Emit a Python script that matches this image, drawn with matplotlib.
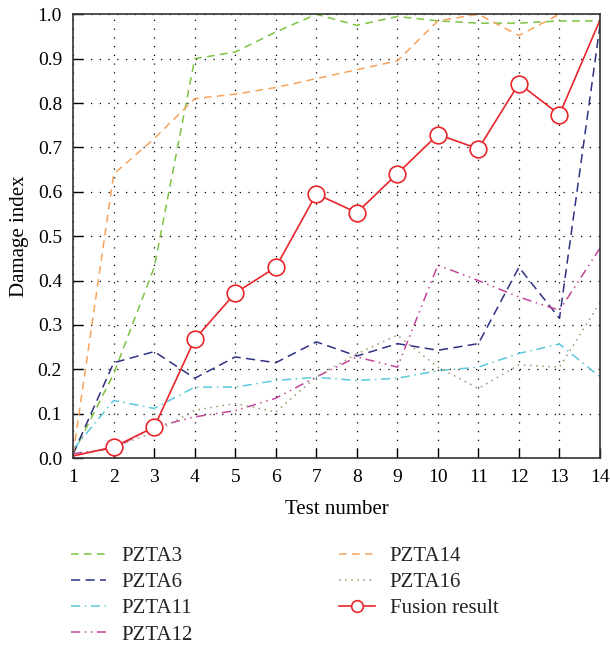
import matplotlib
matplotlib.use("Agg")
import matplotlib.pyplot as plt
import numpy as np

tests = list(range(1, 15))
pzta3 = [0.01, 0.19, 0.43, 0.90, 0.915, 0.96, 1.0, 0.975, 0.995, 0.985, 0.98, 0.98, 0.985, 0.985]
pzta6 = [0.01, 0.215, 0.24, 0.18, 0.228, 0.215, 0.262, 0.23, 0.258, 0.243, 0.258, 0.43, 0.315, 0.975]
pzta11 = [0.02, 0.13, 0.112, 0.16, 0.16, 0.175, 0.182, 0.175, 0.18, 0.197, 0.205, 0.236, 0.257, 0.183]
pzta12 = [0.01, 0.022, 0.07, 0.093, 0.107, 0.135, 0.183, 0.228, 0.205, 0.435, 0.40, 0.363, 0.333, 0.473]
pzta14 = [0.01, 0.64, 0.72, 0.81, 0.82, 0.835, 0.855, 0.875, 0.895, 0.985, 1.0, 0.952, 1.0, 1.0]
pzta16 = [0.005, 0.025, 0.058, 0.108, 0.123, 0.104, 0.183, 0.235, 0.277, 0.205, 0.157, 0.21, 0.205, 0.35]
fusion = [0.005, 0.025, 0.07, 0.268, 0.372, 0.43, 0.595, 0.553, 0.641, 0.729, 0.697, 0.844, 0.774, 0.987]

plt.rcParams['font.family'] = ['Liberation Serif', 'DejaVu Serif']

fig = plt.figure(figsize=(6.1, 6.48), dpi=100)
ax = fig.add_axes([0.12, 0.293, 0.8636, 0.685])

lw = 1.1
ax.plot(tests, pzta3, color='#7dc242', lw=lw, dashes=(5, 3.5), label='PZTA3')
ax.plot(tests, pzta6, color='#2e3182', lw=lw, dashes=(6, 3.5), label='PZTA6')
ax.plot(tests, pzta11, color='#5bc8dc', lw=lw, dashes=(6, 3, 1, 3), label='PZTA11')
ax.plot(tests, pzta12, color='#c2449a', lw=lw, dashes=(6, 3, 1, 3, 1, 3), label='PZTA12')
ax.plot(tests, pzta14, color='#f7a35c', lw=lw, dashes=(5, 3.5), label='PZTA14')
ax.plot(tests, pzta16, color='#9a9a6a', lw=lw, dashes=(1, 3), label='PZTA16')
ax.plot(tests, fusion, color='#e8262b', lw=1.2, marker='o', markersize=12,
        markerfacecolor='white', markeredgecolor='#e8262b', markeredgewidth=1.2,
        markevery=list(range(1, 13)), label='Fusion result')

ax.set_xlim(1, 14)
ax.set_ylim(0, 1.0)
ax.set_xticks(tests)
ax.set_yticks(np.arange(0, 1.01, 0.1))
ax.set_yticklabels([f"{v:.1f}" for v in np.arange(0, 1.01, 0.1)])
ax.tick_params(direction='in', labelsize=14, length=7, width=1, pad=8, top=False, right=False)
ax.grid(True, color='black', linestyle=(0, (1, 6)), linewidth=0.9)
for s in ax.spines.values():
    s.set_linewidth(1.2)
    s.set_color('#333333')
ax.set_xlabel('Test number', fontsize=15, labelpad=10)
ax.set_ylabel('Damage index', fontsize=15, labelpad=6)

leg = fig.legend(loc='upper left', bbox_to_anchor=(0.102, 0.169), ncol=2, frameon=False,
                 fontsize=15, handlelength=1.7, columnspacing=7.05, labelspacing=0.31,
                 handletextpad=0.72, markerscale=0.7, borderaxespad=0)
for t in leg.get_texts():
    t.set_color('#222222')

fig.savefig('out.png', dpi=100)
